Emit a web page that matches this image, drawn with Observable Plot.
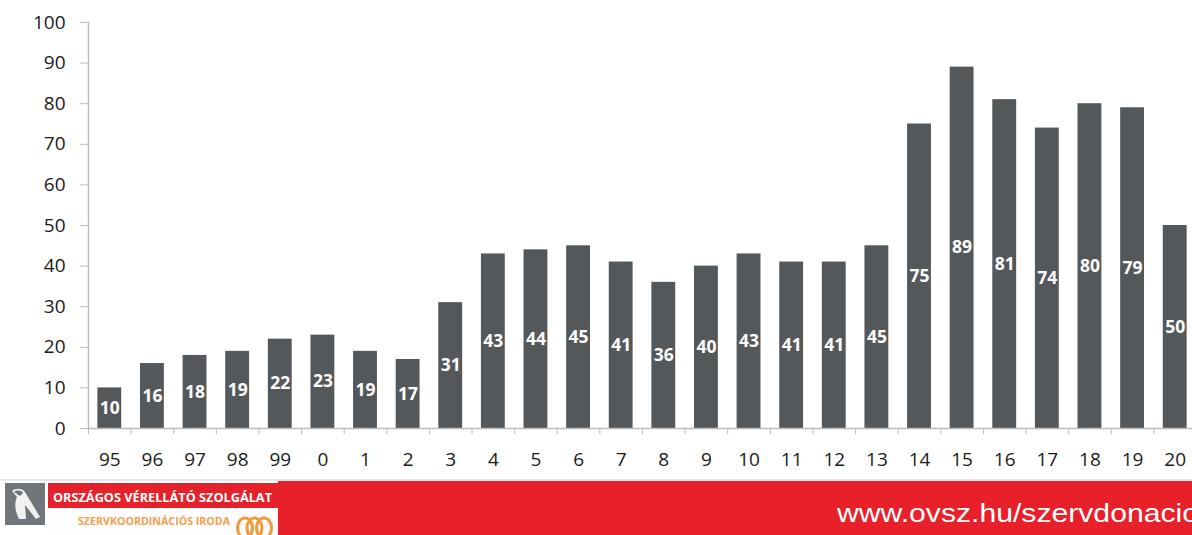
<!DOCTYPE html>
<html>
<head>
<meta charset="utf-8">
<script src="https://cdn.jsdelivr.net/npm/d3@7"></script>
<script src="https://cdn.jsdelivr.net/npm/@observablehq/plot@0.6"></script>
<style>
  html, body { margin: 0; padding: 0; background: #fff; overflow: hidden; width: 1192px; height: 535px; }
  #wrap { position: relative; width: 1192px; height: 535px; overflow: hidden; }
  #chart { position: absolute; left: 0; top: 0; width: 1196px; }
  #chart svg { max-width: none !important; }
  #footer { position: absolute; left: 0; top: 479px; }
</style>
</head>
<body>
<div id="wrap">
  <div id="chart"></div>
  <svg id="footer" width="1192" height="56" xmlns="http://www.w3.org/2000/svg">
    <rect x="0" y="0" width="1192" height="2" fill="#e3e9ec"/>
    <rect x="278" y="2" width="914" height="54" fill="#e8202a"/>
    <rect x="48" y="4" width="230" height="52" fill="#fdfdfd"/>
    <rect x="48" y="4" width="232" height="25" fill="#e52229"/>
    <rect x="5" y="4" width="40" height="42" fill="#70767a"/>
    <path d="M12 12 C16 9, 22 9, 25 13 L40 38 L36 40 L25 26 L26 40 L19 40 C15 32, 14 24, 17 18 Z" fill="#ffffff" opacity="0.9"/>
    <path d="M14 13 C17 11, 21 11, 23 14 L20 17 Z" fill="#70767a"/>
    <text x="53" y="22.5" font-family="Open Sans" font-weight="bold" font-size="13" fill="#ffffff" textLength="219" lengthAdjust="spacingAndGlyphs">ORSZÁGOS VÉRELLÁTÓ SZOLGÁLAT</text>
    <text x="78" y="45.5" font-family="Open Sans" font-weight="bold" font-size="11" fill="#f2a04e" textLength="152" lengthAdjust="spacingAndGlyphs">SZERVKOORDINÁCIÓS IRODA</text>
    <g fill="none" stroke="#f39a3a" stroke-width="3">
      <ellipse cx="245" cy="49" rx="7.5" ry="10"/>
      <ellipse cx="254.5" cy="49" rx="7.5" ry="10"/>
      <ellipse cx="264" cy="49" rx="7.5" ry="10"/>
    </g>
    <text x="837" y="43" font-family="Liberation Sans, Arial, sans-serif" font-size="25.5" fill="#ffffff" textLength="362" lengthAdjust="spacingAndGlyphs">www.ovsz.hu/szervdonacio</text>
  </svg>
</div>
<script>
const years = ["95","96","97","98","99","0","1","2","3","4","5","6","7","8","9","10","11","12","13","14","15","16","17","18","19","20"];
const values = [10,16,18,19,22,23,19,17,31,43,44,45,41,36,40,43,41,41,45,75,89,81,74,80,79,50];
const yTicks = [0,10,20,30,40,50,60,70,80,90,100];

const data = years.map((year, i) => ({year, value: values[i]}));

const W = 1196, ML = 88, MR = 0;
const step = (W - ML - MR) / years.length;

const chart = Plot.plot({
  width: W,
  height: 481,
  marginLeft: ML,
  marginRight: MR,
  marginTop: 22,
  marginBottom: 53,
  style: {fontFamily: "Open Sans", background: "transparent", overflow: "visible"},
  x: {domain: years, paddingInner: 0.44, paddingOuter: 0.22, round: false, label: null},
  y: {domain: [0, 100], label: null},
  marks: [
    Plot.barY(data, {x: "year", y: "value", fill: "#55585a"}),
    Plot.text(data, {x: "year", y: d => d.value / 2, text: d => String(d.value), fill: "#ffffff", fontWeight: "bold", fontSize: 17.5}),
    Plot.frame({anchor: "left", stroke: "#bcbcbc", strokeWidth: 1.5}),
    Plot.ruleY([0], {stroke: "#bcbcbc", strokeWidth: 1.5}),
    Plot.axisY({ticks: yTicks, tickSize: 8, tickPadding: 15, fontSize: 19, stroke: "#bcbcbc", fill: "#1a1a1a", label: null}),
    Plot.axisX({tickSize: 0, tickPadding: 24, fontSize: 19, fill: "#1a1a1a", label: null}),
    Plot.axisX({tickSize: 6, text: null, dx: -step / 2, stroke: "#bcbcbc", label: null})
  ]
});
document.getElementById("chart").appendChild(chart);
</script>
</body>
</html>
